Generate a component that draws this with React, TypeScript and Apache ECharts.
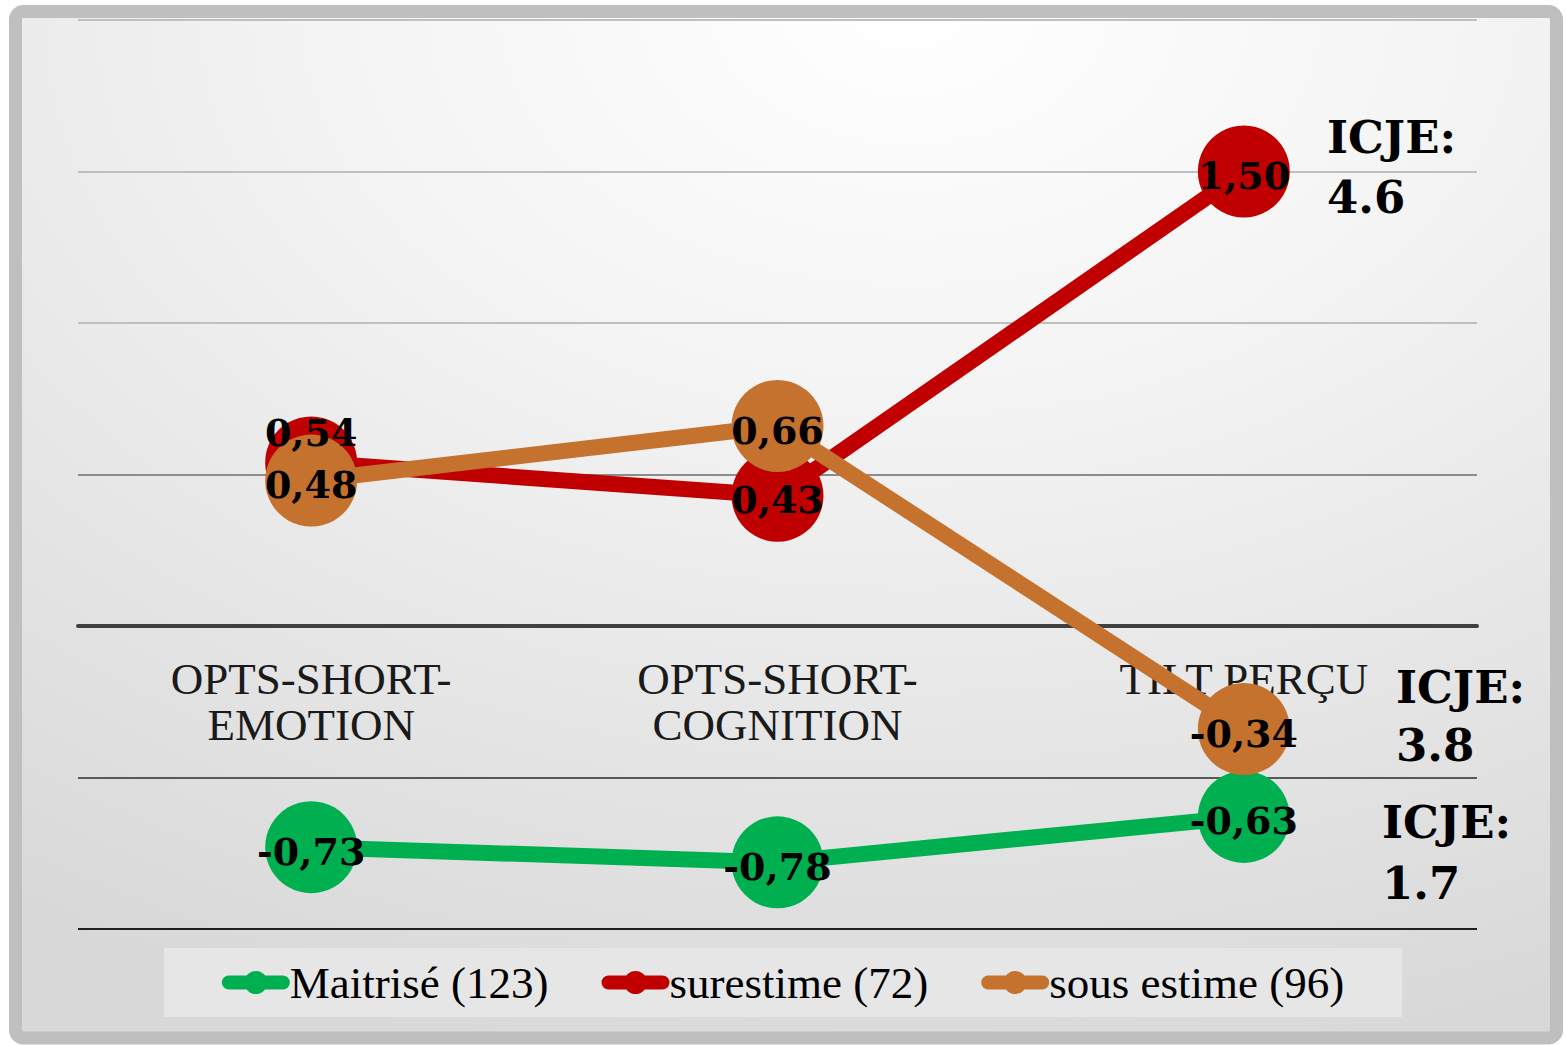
import React, { useEffect, useRef } from "react";
import * as echarts from "echarts";

const categories = ["OPTS-SHORT-EMOTION", "OPTS-SHORT-COGNITION", "TILT PERÇU"];
const seriesNames = ["Maitrisé (123)", "surestime (72)", "sous estime (96)"];
const maitriseValues = [-0.73, -0.78, -0.63];
const surestimeValues = [0.54, 0.43, 1.5];
const sousEstimeValues = [0.48, 0.66, -0.34];
const seriesColors = ["#00B050", "#C00000", "#C5722F"];
const icjeLabels = ["ICJE:\n4.6", "ICJE:\n3.8", "ICJE:\n1.7"];
const yTicks = { min: -1, max: 2, interval: 0.5 };
// index of the surestime point whose label is placed above its marker
const raisedLabelIndex = 0;

const fmt = (v: number) => v.toFixed(2).replace(".", ",");

const legendIcon =
  "path://M7,4.5 H61 A7,7 0 0 1 61,18.5 H7 A7,7 0 0 1 7,4.5 Z M34,0 A11.5,11.5 0 0 1 34,23 A11.5,11.5 0 0 1 34,0 Z";

const GRID_TOP = 20;
const GRID_BOTTOM = 116;
const CHART_H = 1045;

export default function App() {
  const ref = useRef<HTMLDivElement>(null);
  useEffect(() => {
    document.body.style.margin = "0";
    const chart = echarts.init(ref.current!, null, { renderer: "svg" });
    const labelFont = {
      fontFamily: "DejaVu Serif",
      fontWeight: "bold" as const,
      fontSize: 38,
      color: "#000",
      textBorderWidth: 0,
      textBorderColor: "transparent",
      opacity: 1,
    };
    const plotH = CHART_H - GRID_TOP - GRID_BOTTOM;
    const zeroFromBottom = (plotH * (0 - yTicks.min)) / (yTicks.max - yTicks.min);

    const mk = (name: string, vals: number[], color: string, z: number, hideIdx = -1) => ({
      name,
      type: "line",
      data: vals.map((v, i) => (i === hideIdx ? { value: v, label: { show: false } } : v)),
      symbol: "circle",
      symbolSize: 92,
      z,
      itemStyle: { color },
      lineStyle: { color, width: 16 },
      label: {
        show: true,
        position: "inside",
        offset: [0, 4],
        formatter: (p: any) => fmt(p.value),
        ...labelFont,
      },
    });
    const icjeText = (text: string, x: number, y: number, lh: number) => ({
      type: "text",
      x,
      y,
      z: 50,
      style: {
        text,
        fontFamily: "DejaVu Serif",
        fontWeight: "bold",
        fontSize: 45,
        lineHeight: lh,
        fill: "#000",
        verticalAlign: "middle",
        align: "left",
      },
    });
    chart.setOption({
      animation: false,
      backgroundColor: "transparent",
      graphic: [
        {
          type: "rect",
          z: -10,
          silent: true,
          shape: { x: 15.5, y: 11.5, width: 1541, height: 1026.5, r: 8 },
          style: {
            fill: {
              type: "radial",
              x: 0.58,
              y: 0.0,
              r: 1.05,
              colorStops: [
                { offset: 0, color: "#ffffff" },
                { offset: 0.35, color: "#f4f4f4" },
                { offset: 1, color: "#d8d8d8" },
              ],
            },
            stroke: "#bfbfbf",
            lineWidth: 13,
          },
        },
        icjeText(icjeLabels[0], 1327, 167, 60),
        icjeText(icjeLabels[1], 1396, 716, 58),
        icjeText(icjeLabels[2], 1382, 853, 61),
      ],
      grid: { left: 78, right: 89, top: GRID_TOP, bottom: GRID_BOTTOM, containLabel: false },
      legend: {
        data: seriesNames,
        left: "center",
        top: 948,
        backgroundColor: "#e6e6e6",
        padding: [12, 58, 12, 58],
        itemGap: 53,
        itemWidth: 68,
        itemHeight: 23,
        icon: legendIcon,
        textStyle: {
          fontFamily: "Liberation Serif",
          fontSize: 45,
          color: "#000",
          padding: [0, 0, 0, -5],
        },
      },
      xAxis: {
        type: "category",
        data: categories,
        boundaryGap: true,
        offset: -zeroFromBottom,
        axisLine: { onZero: false, lineStyle: { color: "#404040", width: 4 } },
        axisTick: { show: false },
        axisLabel: {
          margin: 30,
          interval: 0,
          fontFamily: "Liberation Serif",
          fontSize: 45,
          lineHeight: 46,
          color: "#1a1a1a",
          formatter: (v: string) => v.replace("SHORT-", "SHORT-\n"),
        },
        splitLine: { show: false },
      },
      yAxis: {
        type: "value",
        min: yTicks.min,
        max: yTicks.max,
        interval: yTicks.interval,
        axisLabel: { show: false },
        axisLine: { show: false },
        axisTick: { show: false },
        splitLine: {
          show: true,
          lineStyle: {
            color: ["#1f1f1f", "#595959", "#404040", "#8c8c8c", "#bfbfbf", "#bfbfbf", "#bfbfbf"],
            width: 2,
          },
        },
      },
      series: [
        mk(seriesNames[0], maitriseValues, seriesColors[0], 2),
        mk(seriesNames[1], surestimeValues, seriesColors[1], 3, raisedLabelIndex),
        mk(seriesNames[2], sousEstimeValues, seriesColors[2], 4),
        {
          name: "surestime-label",
          type: "scatter",
          z: 10,
          silent: true,
          symbolSize: 1,
          itemStyle: { color: "transparent", opacity: 1 },
          data: surestimeValues.map((v, i) => (i === raisedLabelIndex ? v : "-")),
          label: {
            show: true,
            position: "top",
            distance: 0,
            offset: [0, -10],
            formatter: (p: any) => fmt(p.value),
            ...labelFont,
          },
        },
      ],
    });
    return () => chart.dispose();
  }, []);
  return <div ref={ref} style={{ width: 1566, height: 1045 }} />;
}
